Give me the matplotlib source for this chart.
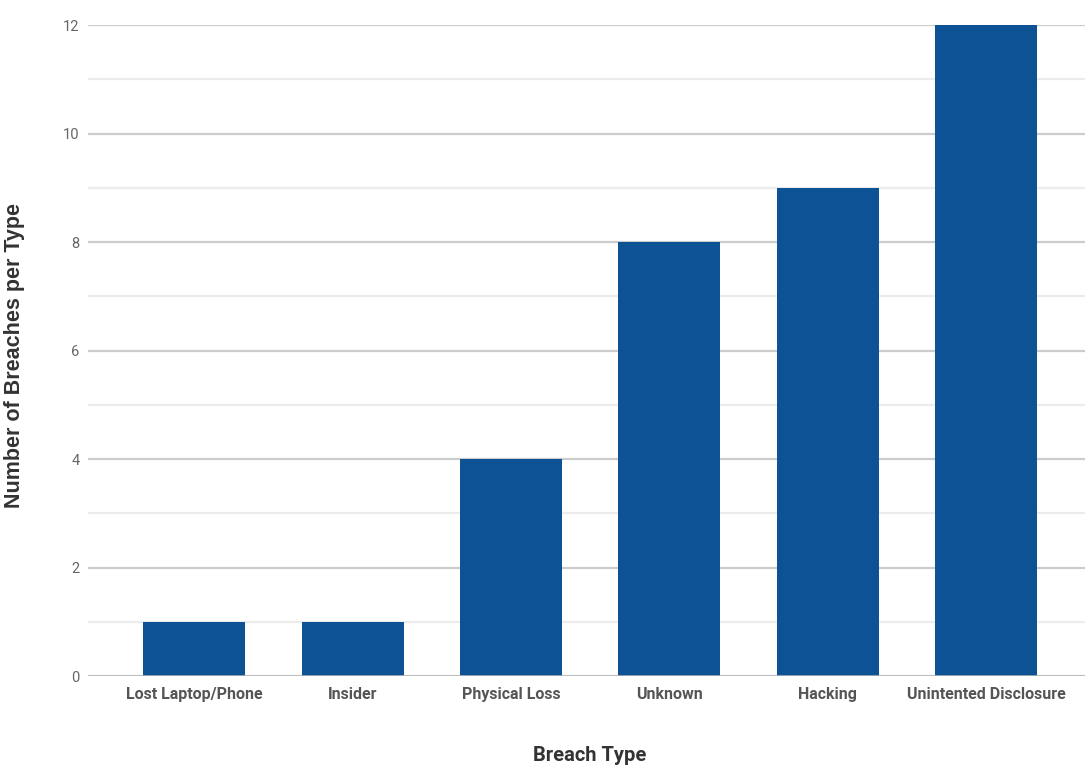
import matplotlib.pyplot as plt
from matplotlib.ticker import MultipleLocator

categories = ["Lost Laptop/Phone", "Insider", "Physical Loss", "Unknown",
              "Hacking", "Unintented Disclosure"]
breaches = [1, 1, 4, 8, 9, 12]
y_ticks = [0, 2, 4, 6, 8, 10, 12]

narrow = ["Roboto", "DejaVu Sans"]

fig = plt.figure(figsize=(10.85, 7.67), dpi=100)
ax = fig.add_axes([0.081, 0.1186, 0.919, 0.8488])

x = range(len(categories))
ax.bar(x, breaches, width=0.645, color="#0d5294", zorder=3)

ax.set_xlim(-0.673, 5.625)
ax.set_ylim(0, 12)
ax.set_yticks(y_ticks)
ax.yaxis.set_minor_locator(MultipleLocator(1))
ax.grid(axis="y", which="major", color="#cccccc", linewidth=1.6, zorder=0)
ax.grid(axis="y", which="minor", color="#ececec", linewidth=1.6, zorder=0)
ax.axhline(0, color="#bbbbbb", linewidth=1.8, zorder=4)

for s in ax.spines.values():
    s.set_visible(False)
ax.tick_params(axis="both", which="both", length=0)
ax.tick_params(axis="y", pad=6, labelcolor="#666666")
ax.tick_params(axis="x", pad=8, labelcolor="#555555")

ax.set_xticks(list(x))
ax.set_xticklabels(categories, family=narrow, fontsize=11.5, fontweight="bold")
for lab in ax.get_yticklabels():
    lab.set_family(narrow)
    lab.set_fontsize(10.5)

ax.set_xlabel("Breach Type", family=narrow, fontsize=14.5, fontweight="bold",
              color="#333333")
ax.xaxis.set_label_coords(0.5035, -0.108)
ax.set_ylabel("Number of Breaches per Type", family=["Liberation Sans", "DejaVu Sans"],
              fontsize=15.5, fontweight="bold", color="#333333")
ax.yaxis.set_label_coords(-0.063, 0.493)

fig.savefig("out.png", dpi=100)
